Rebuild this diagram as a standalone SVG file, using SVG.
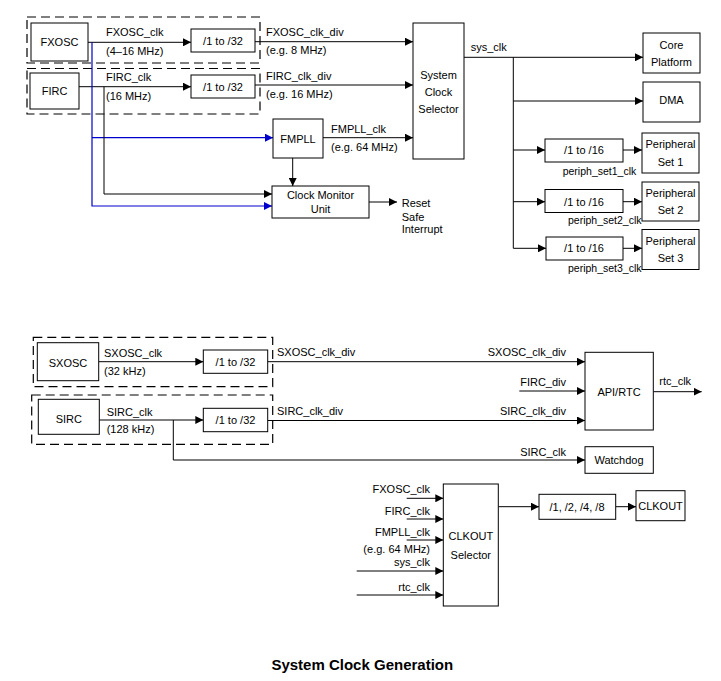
<svg xmlns="http://www.w3.org/2000/svg" width="721" height="681" viewBox="0 0 721 681">
<defs>
<marker id="a" markerUnits="userSpaceOnUse" markerWidth="9" markerHeight="8" refX="8" refY="4" orient="auto"><path d="M0,0 L8,4 L0,8 z" fill="#000"/></marker>
<marker id="ab" markerUnits="userSpaceOnUse" markerWidth="9" markerHeight="8" refX="8" refY="4" orient="auto"><path d="M0,0 L8,4 L0,8 z" fill="#0000cc"/></marker>
<style>
.b{fill:#fff;stroke:#000;stroke-width:1}
.d{fill:none;stroke:#000;stroke-width:1.2;stroke-dasharray:9 5}
.l{fill:none;stroke:#000;stroke-width:1}
.ar{marker-end:url(#a)}
.bl{fill:none;stroke:#0000cc;stroke-width:1.2;marker-end:url(#ab)}
text{font-family:"Liberation Sans",Arial,sans-serif;font-size:11px;fill:#000}
.c{text-anchor:middle}
.e{text-anchor:end}
.s{font-size:10.5px}
.t{font-size:15px;font-weight:bold}
</style>
</defs>
<rect width="721" height="681" fill="#fff"/>

<g id="groups">
<rect class="d" x="27" y="17" width="233" height="46"/>
<rect class="d" x="27" y="68.5" width="233" height="45.5"/>
<rect class="d" x="33.3" y="337.3" width="239.4" height="49.4"/>
<rect class="d" x="31.7" y="395" width="241" height="49.3"/>
</g>

<g id="connectors">
<line class="l ar" x1="88" y1="42.3" x2="191" y2="42.3"/>
<line class="l ar" x1="79" y1="86.7" x2="191" y2="86.7"/>
<line class="l ar" x1="255" y1="41.7" x2="413" y2="41.7"/>
<line class="l ar" x1="255" y1="85" x2="413" y2="85"/>
<line class="l ar" x1="323" y1="137.7" x2="413" y2="137.7"/>
<line class="l ar" x1="292.7" y1="158" x2="292.7" y2="186"/>
<line class="l ar" x1="369" y1="202" x2="397" y2="202"/>
<path class="bl" d="M92,42.3 V206 H272"/>
<path class="bl" d="M92,137.7 H273"/>
<path class="l ar" d="M104,86.7 V194 H272"/>
<line class="l ar" x1="464" y1="57.3" x2="643" y2="57.3"/>
<path class="l" d="M513.3,57.3 V248.3"/>
<path class="l ar" d="M513.3,101 H643"/>
<path class="l ar" d="M513.3,150 H545"/>
<path class="l ar" d="M513.3,201.7 H545"/>
<path class="l ar" d="M513.3,248.3 H546"/>
<path class="l ar" d="M623,150 H642"/>
<path class="l ar" d="M623,201.7 H642"/>
<path class="l ar" d="M623,248.3 H642"/>

<line class="l ar" x1="98.7" y1="361.7" x2="203.3" y2="361.7"/>
<line class="l ar" x1="99.3" y1="420" x2="203.3" y2="420"/>
<line class="l ar" x1="267.7" y1="361.7" x2="585" y2="361.7"/>
<line class="l ar" x1="267.7" y1="420.5" x2="585" y2="420.5"/>
<line class="l ar" x1="519.3" y1="391" x2="585" y2="391"/>
<path class="l ar" d="M173.3,420 V460 H585"/>
<line class="l ar" x1="653.3" y1="391.7" x2="701.7" y2="391.7"/>

<line class="l ar" x1="406.7" y1="498.3" x2="443.3" y2="498.3"/>
<line class="l ar" x1="406.7" y1="519" x2="443.3" y2="519"/>
<line class="l ar" x1="406.7" y1="540" x2="443.3" y2="540"/>
<line class="l ar" x1="356.7" y1="571" x2="443.3" y2="571"/>
<line class="l ar" x1="356.7" y1="595" x2="443.3" y2="595"/>
<line class="l ar" x1="498.3" y1="506.7" x2="539" y2="506.7"/>
<line class="l ar" x1="615.7" y1="506.7" x2="636" y2="506.7"/>
</g>

<g id="labels">
<text x="106" y="36">FXOSC_clk</text>
<text x="106" y="55">(4–16 MHz)</text>
<text x="106" y="81">FIRC_clk</text>
<text x="106" y="100">(16 MHz)</text>
<text x="266" y="36">FXOSC_clk_div</text>
<text x="266" y="54">(e.g. 8 MHz)</text>
<text x="266" y="80">FIRC_clk_div</text>
<text x="266" y="98">(e.g. 16 MHz)</text>
<text x="331" y="133">FMPLL_clk</text>
<text x="331" y="151">(e.g. 64 MHz)</text>
<text x="401.7" y="207">Reset</text>
<text x="401.7" y="220.5">Safe</text>
<text x="401.7" y="233">Interrupt</text>
<text x="470.7" y="50.7">sys_clk</text>
<text class="s" x="562.7" y="174.5">periph_set1_clk</text>
<text class="s e" x="641.5" y="224">periph_set2_clk</text>
<text class="s e" x="641.5" y="272">periph_set3_clk</text>

<text x="104" y="357.3">SXOSC_clk</text>
<text x="104" y="375">(32 kHz)</text>
<text x="106.7" y="416.3">SIRC_clk</text>
<text x="106.7" y="433">(128 kHz)</text>
<text x="277" y="356.3">SXOSC_clk_div</text>
<text x="277" y="414.7">SIRC_clk_div</text>
<text class="e" x="566" y="356.3">SXOSC_clk_div</text>
<text class="e" x="566" y="385.7">FIRC_div</text>
<text class="e" x="566" y="414.7">SIRC_clk_div</text>
<text class="e" x="566" y="456.3">SIRC_clk</text>
<text x="659.3" y="385">rtc_clk</text>

<text class="e" x="430" y="493.3">FXOSC_clk</text>
<text class="e" x="430" y="514.7">FIRC_clk</text>
<text class="e" x="430" y="535.7">FMPLL_clk</text>
<text class="e" x="430" y="553">(e.g. 64 MHz)</text>
<text class="e" x="430" y="566.3">sys_clk</text>
<text class="e" x="430" y="590.7">rtc_clk</text>

<text class="t c" x="362.3" y="670">System Clock Generation</text>
</g>

<g id="FXOSC"><rect class="b" x="31" y="23" width="57" height="38"/><text class="c" x="59.5" y="46">FXOSC</text></g>
<g id="FIRC"><rect class="b" x="30" y="73" width="49" height="36"/><text class="c" x="54.5" y="95">FIRC</text></g>
<g id="div_fxosc"><rect class="b" x="191" y="29" width="64" height="23"/><text class="c" x="223" y="44.5">/1 to /32</text></g>
<g id="div_firc"><rect class="b" x="191" y="75" width="64" height="23"/><text class="c" x="223" y="90.5">/1 to /32</text></g>
<g id="SysClkSel"><rect class="b" x="413" y="23" width="51" height="136"/><text class="c" x="438.5" y="79">System</text><text class="c" x="438.5" y="96">Clock</text><text class="c" x="438.5" y="113">Selector</text></g>
<g id="FMPLL"><rect class="b" x="273" y="119" width="50" height="39"/><text class="c" x="298" y="143">FMPLL</text></g>
<g id="CMU"><rect class="b" x="272" y="186" width="97" height="32"/><text class="c" x="320.5" y="199">Clock Monitor</text><text class="c" x="320.5" y="213">Unit</text></g>
<g id="CorePlatform"><rect class="b" x="643" y="33" width="57" height="40"/><text class="c" x="671.5" y="49">Core</text><text class="c" x="671.5" y="66">Platform</text></g>
<g id="DMA"><rect class="b" x="643" y="82" width="57" height="40"/><text class="c" x="671.5" y="104">DMA</text></g>
<g id="div_ps1"><rect class="b" x="545" y="139" width="78" height="23"/><text class="c" x="584" y="154">/1 to /16</text></g>
<g id="div_ps2"><rect class="b" x="545" y="189.5" width="78" height="23"/><text class="c" x="584" y="205.5">/1 to /16</text></g>
<g id="div_ps3"><rect class="b" x="546" y="237" width="77" height="23"/><text class="c" x="584" y="252">/1 to /16</text></g>
<g id="PS1"><rect class="b" x="642" y="133" width="57" height="40"/><text class="c" x="670.5" y="148">Peripheral</text><text class="c" x="670.5" y="165.5">Set 1</text></g>
<g id="PS2"><rect class="b" x="642" y="182" width="57" height="39"/><text class="c" x="670.5" y="196.5">Peripheral</text><text class="c" x="670.5" y="214">Set 2</text></g>
<g id="PS3"><rect class="b" x="642" y="229.5" width="57" height="40"/><text class="c" x="670.5" y="244.5">Peripheral</text><text class="c" x="670.5" y="262">Set 3</text></g>

<g id="SXOSC"><rect class="b" x="37.3" y="342.7" width="61.4" height="38"/><text class="c" x="68" y="367.3">SXOSC</text></g>
<g id="SIRC"><rect class="b" x="38.3" y="399.3" width="61" height="35"/><text class="c" x="68.8" y="423">SIRC</text></g>
<g id="div_sxosc"><rect class="b" x="203.3" y="350" width="64.4" height="23.3"/><text class="c" x="235.5" y="365.7">/1 to /32</text></g>
<g id="div_sirc"><rect class="b" x="203.3" y="408.3" width="64.4" height="23.4"/><text class="c" x="235.5" y="424">/1 to /32</text></g>
<g id="APIRTC"><rect class="b" x="585" y="352.3" width="68.3" height="77.7"/><text class="c" x="619" y="395.7">API/RTC</text></g>
<g id="Watchdog"><rect class="b" x="585" y="446.7" width="68.3" height="26.6"/><text class="c" x="619" y="464">Watchdog</text></g>
<g id="ClkoutSel"><rect class="b" x="443.3" y="484" width="55" height="122"/><text class="c" x="470.8" y="539.7">CLKOUT</text><text class="c" x="470.8" y="559">Selector</text></g>
<g id="div_clkout"><rect class="b" x="539" y="494.3" width="76.7" height="25"/><text class="c" x="577" y="510.7">/1, /2, /4, /8</text></g>
<g id="CLKOUT"><rect class="b" x="636" y="490.7" width="49" height="30"/><text class="c" x="660.5" y="510">CLKOUT</text></g>
</svg>
